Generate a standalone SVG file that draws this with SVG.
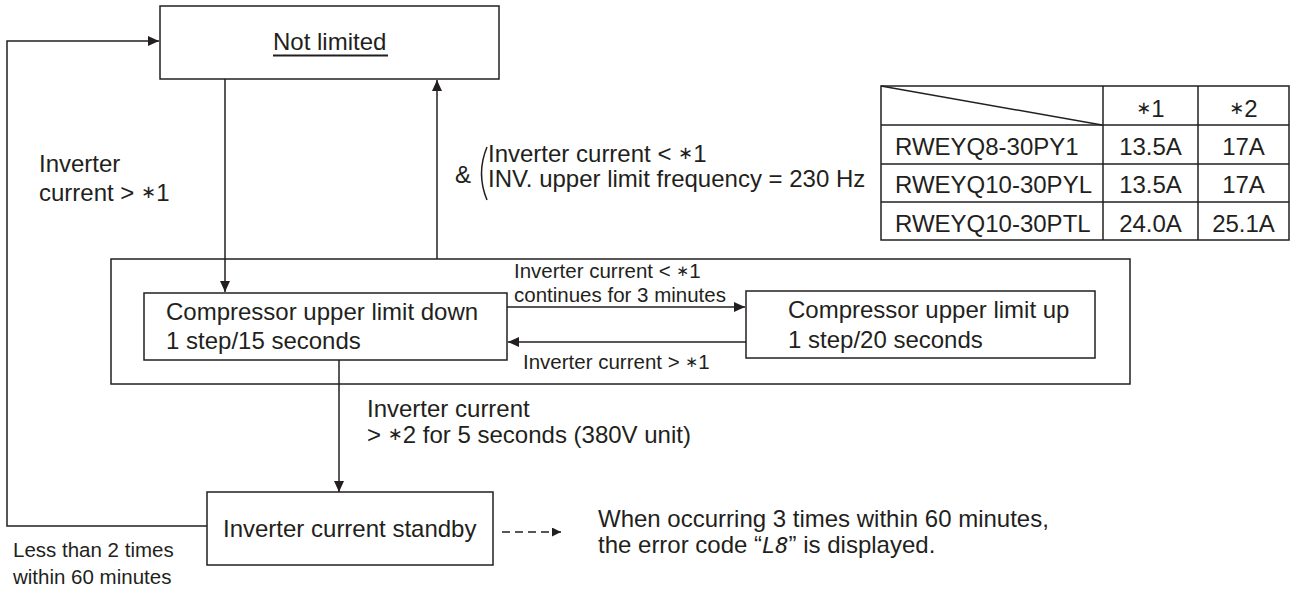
<svg xmlns="http://www.w3.org/2000/svg" width="1293" height="593" viewBox="0 0 1293 593">
<defs>
<marker id="ah" markerUnits="userSpaceOnUse" markerWidth="12" markerHeight="10" refX="11" refY="5" orient="auto"><path d="M0,0 L11,5 L0,10 z" fill="#231f20"/></marker>
<marker id="ahs" markerUnits="userSpaceOnUse" markerWidth="10" markerHeight="9" refX="9" refY="4.5" orient="auto"><path d="M0,0 L9,4.5 L0,9 z" fill="#231f20"/></marker>
<style>
text{font-family:"Liberation Sans",Arial,sans-serif;fill:#231f20}
.t{font-size:24px}
.s{font-size:20.5px}
.a{font-size:0.75em;font-family:"DejaVu Sans",sans-serif}
.box{fill:#fff;stroke:#231f20;stroke-width:1.5}
.ln{fill:none;stroke:#231f20;stroke-width:1.5}
.tb{fill:none;stroke:#231f20;stroke-width:1.5}
</style>
</defs>
<rect width="1293" height="593" fill="#fff"/>

<g id="outer-group">
<rect class="box" x="111" y="259" width="1019" height="125"/>
</g>

<g id="connectors">
<polyline class="ln" points="207,526 7,526 7,41 159,41" marker-end="url(#ah)"/>
<line class="ln" x1="225" y1="79" x2="225" y2="292" marker-end="url(#ah)"/>
<line class="ln" x1="437" y1="259" x2="437" y2="80" marker-end="url(#ah)"/>
<line class="ln" x1="507" y1="307" x2="745" y2="307" marker-end="url(#ah)"/>
<line class="ln" x1="746" y1="342" x2="508" y2="342" marker-end="url(#ah)"/>
<line class="ln" x1="339" y1="360" x2="339" y2="492" marker-end="url(#ah)"/>
<line class="ln" x1="502" y1="532" x2="561" y2="532" stroke-dasharray="8,5" marker-end="url(#ahs)"/>
</g>

<g id="not-limited">
<rect class="box" x="160" y="6" width="339" height="73"/>
<text class="t" x="273" y="50">Not limited</text>
<line x1="273" y1="55.5" x2="388" y2="55.5" stroke="#231f20" stroke-width="2"/>
</g>

<g id="comp-down">
<rect class="box" x="144" y="293" width="363" height="67"/>
<text class="t" x="166" y="320">Compressor upper limit down</text>
<text class="t" x="166" y="349">1 step/15 seconds</text>
</g>

<g id="comp-up">
<rect class="box" x="746" y="291" width="349" height="67"/>
<text class="t" x="788" y="318">Compressor upper limit up</text>
<text class="t" x="788" y="348">1 step/20 seconds</text>
</g>

<g id="standby">
<rect class="box" x="207" y="492" width="286" height="73"/>
<text class="t" x="223" y="537">Inverter current standby</text>
</g>

<g id="labels">
<text class="t" x="39" y="172">Inverter</text>
<text class="t" x="39" y="201">current &gt; <tspan class="a" dy="-3">∗</tspan><tspan dy="3">1</tspan></text>
<text class="t" x="455" y="183">&amp;</text>
<path class="ln" d="M487,147 Q476,173.5 487,200"/>
<text class="t" x="488" y="162">Inverter current &lt; <tspan class="a" dy="-3">∗</tspan><tspan dy="3">1</tspan></text>
<text class="t" x="488" y="187">INV. upper limit frequency = 230 Hz</text>
<text class="s" x="514" y="278">Inverter current &lt; <tspan class="a" dy="-2.5">∗</tspan><tspan dy="2.5">1</tspan></text>
<text class="s" x="514" y="302">continues for 3 minutes</text>
<text class="s" x="523" y="369">Inverter current &gt; <tspan class="a" dy="-2.5">∗</tspan><tspan dy="2.5">1</tspan></text>
<text class="t" x="367" y="417">Inverter current</text>
<text class="t" x="367" y="443">&gt; <tspan class="a" dy="-3">∗</tspan><tspan dy="3">2 for 5 seconds (380V unit)</tspan></text>
<text class="s" x="13" y="557">Less than 2 times</text>
<text class="s" x="13" y="584">within 60 minutes</text>
<text class="t" x="598" y="527">When occurring 3 times within 60 minutes,</text>
<text class="t" x="598" y="553">the error code “<tspan font-style="italic" font-family="'DejaVu Sans Mono',monospace" font-size="22px">L8</tspan>” is displayed.</text>
</g>

<g id="table">
<rect class="tb" x="881" y="86" width="408" height="154"/>
<line class="tb" x1="881" y1="86" x2="1102" y2="125"/>
<line class="tb" x1="1103" y1="86" x2="1103" y2="240"/>
<line class="tb" x1="1198" y1="86" x2="1198" y2="240"/>
<line class="tb" x1="881" y1="125" x2="1289" y2="125"/>
<line class="tb" x1="881" y1="164" x2="1289" y2="164"/>
<line class="tb" x1="881" y1="202" x2="1289" y2="202"/>
<text class="t" x="1150.5" y="117" text-anchor="middle"><tspan class="a" dy="-3">∗</tspan><tspan dy="3">1</tspan></text>
<text class="t" x="1243.5" y="117" text-anchor="middle"><tspan class="a" dy="-3">∗</tspan><tspan dy="3">2</tspan></text>
<text class="t" x="895" y="155">RWEYQ8-30PY1</text>
<text class="t" x="1150.5" y="155" text-anchor="middle">13.5A</text>
<text class="t" x="1243.5" y="155" text-anchor="middle">17A</text>
<text class="t" x="895" y="193">RWEYQ10-30PYL</text>
<text class="t" x="1150.5" y="193" text-anchor="middle">13.5A</text>
<text class="t" x="1243.5" y="193" text-anchor="middle">17A</text>
<text class="t" x="895" y="232">RWEYQ10-30PTL</text>
<text class="t" x="1150.5" y="232" text-anchor="middle">24.0A</text>
<text class="t" x="1243.5" y="232" text-anchor="middle">25.1A</text>
</g>
</svg>
